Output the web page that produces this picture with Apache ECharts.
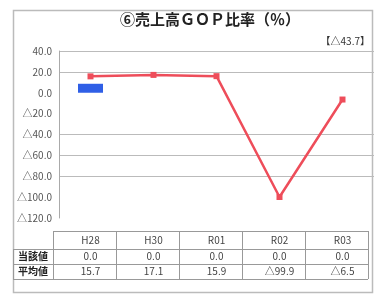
<!DOCTYPE html>
<html>
<head>
<meta charset="utf-8">
<script src="https://cdn.jsdelivr.net/npm/echarts@6/dist/echarts.min.js"></script>
<style>
  html, body { margin: 0; padding: 0; background: #fff; }
  #main { width: 376px; height: 301px; }
</style>
</head>
<body>
<div id="main"></div>
<script>
var categories = ['H28', 'H30', 'R01', 'R02', 'R03'];
var currentBar = [8.6, 0, 0, 0, 0];
var currentValues = [0.0, 0.0, 0.0, 0.0, 0.0];
var averageValues = [15.7, 17.1, 15.9, -99.9, -6.5];
var rowNames = ['当該値', '平均値'];
var yTicks = { min: -120, max: 40, interval: 20 };
var titleText = '⑥売上高ＧＯＰ比率（％）';
var noteText = '【△43.7】';

var FONT = '"Noto Sans CJK JP", sans-serif';

function fmt(v) {
  return v < 0 ? '△' + (-v).toFixed(1) : v.toFixed(1);
}

var chart = echarts.init(document.getElementById('main'));

chart.setOption({
  animation: false,
  textStyle: { fontFamily: FONT },
  grid: { left: 59, right: 2, top: 51, bottom: 83 },
  xAxis: {
    type: 'category',
    data: categories,
    axisLine: { show: false },
    axisTick: { show: false },
    axisLabel: { show: false }
  },
  yAxis: {
    type: 'value',
    min: yTicks.min,
    max: yTicks.max,
    interval: yTicks.interval,
    axisLine: { show: true, lineStyle: { color: '#aaa' } },
    axisTick: { show: false },
    axisLabel: {
      formatter: fmt,
      fontSize: 10,
      color: '#555',
      margin: 7
    },
    splitLine: {
      lineStyle: {
        color: ['transparent', 'transparent', '#bbb', '#bbb', '#bbb', 'transparent', 'transparent', '#bbb', '#bbb'],
        width: 1
      }
    }
  },
  series: [
    {
      name: rowNames[0],
      type: 'bar',
      data: currentBar,
      barWidth: 25,
      itemStyle: { color: '#2f5fe6' }
    },
    {
      name: rowNames[1],
      type: 'line',
      data: averageValues,
      symbol: 'rect',
      symbolSize: 6,
      lineStyle: { color: '#ee4d5a', width: 2.5 },
      itemStyle: { color: '#ee4d5a' }
    }
  ]
});

// data table, title and frame
var g = [];
var top0 = 231, rowH = [18, 15, 15];
var xs = categories.map(function (c) { return chart.convertToPixel({ xAxisIndex: 0 }, c); });
var step = xs[1] - xs[0];
var edges = xs.map(function (x) { return x - step / 2 - 6; });
edges.push(xs[xs.length - 1] + step / 2 - 6);
var tableLeft = 13;
var tableRight = edges[edges.length - 1];
var rowsY = [top0, top0 + rowH[0], top0 + rowH[0] + rowH[1], top0 + rowH[0] + rowH[1] + rowH[2]];
var lineStyle = { stroke: '#999', lineWidth: 1 };

g.push({ type: 'rect', shape: { x: 13.5, y: 10.5, width: 359, height: 282 }, style: { fill: null, stroke: '#bbb', lineWidth: 1.5 }, z: -1 });
g.push({
  type: 'text', x: 210, y: 19,
  style: { text: titleText, fontSize: 15, fontWeight: 'bold', fontFamily: FONT, fill: '#222', align: 'center', verticalAlign: 'middle' }
});
// horizontal lines
g.push({ type: 'line', shape: { x1: edges[0], y1: rowsY[0] + 0.5, x2: tableRight, y2: rowsY[0] + 0.5 }, style: lineStyle });
for (var r = 1; r < rowsY.length; r++) {
  g.push({ type: 'line', shape: { x1: tableLeft, y1: rowsY[r] + 0.5, x2: tableRight, y2: rowsY[r] + 0.5 }, style: lineStyle });
}
// vertical lines
edges.forEach(function (e) {
  g.push({ type: 'line', shape: { x1: Math.round(e) + 0.5, y1: rowsY[0], x2: Math.round(e) + 0.5, y2: rowsY[3] }, style: lineStyle });
});
g.push({ type: 'line', shape: { x1: tableLeft + 0.5, y1: rowsY[1], x2: tableLeft + 0.5, y2: rowsY[3] }, style: lineStyle });

function cellText(x, y, t, bold) {
  g.push({
    type: 'text', x: x, y: y,
    style: { text: t, fontSize: 10, fontFamily: FONT, fill: bold ? '#222' : '#444', align: 'center', verticalAlign: 'middle', fontWeight: bold ? 'bold' : 'normal' }
  });
}
categories.forEach(function (c, i) {
  cellText(xs[i], (rowsY[0] + rowsY[1]) / 2, c);
  cellText(xs[i], (rowsY[1] + rowsY[2]) / 2, fmt(currentValues[i]));
  cellText(xs[i], (rowsY[2] + rowsY[3]) / 2, fmt(averageValues[i]));
});
cellText((tableLeft + edges[0]) / 2, (rowsY[1] + rowsY[2]) / 2, rowNames[0], true);
cellText((tableLeft + edges[0]) / 2, (rowsY[2] + rowsY[3]) / 2, rowNames[1], true);

g.push({
  type: 'text', right: 6, top: 36,
  style: { text: noteText, fontSize: 10, fontFamily: FONT, fill: '#333' }
});

chart.setOption({ graphic: g });
</script>
</body>
</html>
